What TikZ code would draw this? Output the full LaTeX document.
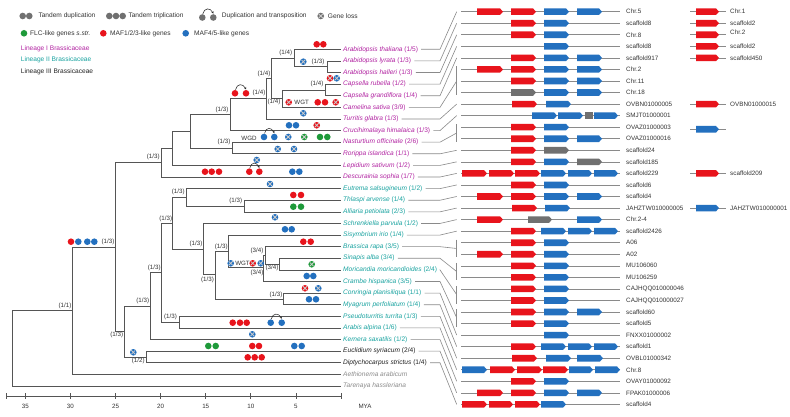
\documentclass[tikz,border=0pt]{standalone}
\usepackage{fontspec}
\setmainfont{Liberation Sans}
\usetikzlibrary{arrows.meta,calc}
\definecolor{linI}{HTML}{B224A2}
\definecolor{linII}{HTML}{19A3A0}
\definecolor{linIII}{HTML}{222222}
\definecolor{gred}{HTML}{E8141C}
\definecolor{gblue}{HTML}{2370BF}
\definecolor{ggreen}{HTML}{1E9A3A}
\definecolor{ggrey}{HTML}{707070}
\definecolor{treec}{HTML}{555555}
\definecolor{linec}{HTML}{8A8A8A}
\definecolor{txtc}{HTML}{333333}
\definecolor{greytxt}{HTML}{8C8C8C}
\newcommand\dotc[3]{\fill[#1] (#2,#3) circle (3.3pt);}
\newcommand\lossc[3]{\fill[#1] (#2,#3) circle (3.3pt);\draw[lossx] ({#2-2},{#3-2}) -- ({#2+2},{#3+2}) ({#2-2},{#3+2}) -- ({#2+2},{#3-2});}
\newcommand\arcdup[3]{\draw[arcst] ({#1+0.5},{#3-3.6}) .. controls ({#1+2},{#3-10}) and ({#2-3},{#3-10}) .. ({#2},{#3-3.9});}
\newcommand\G[4]{\pgfmathsetmacro\gy{11.7+11.55*#1}\fill[#4] (#2,{\gy-3.3}) -- ({#3-3},{\gy-3.3}) -- (#3,\gy) -- ({#3-3},{\gy+3.3}) -- (#2,{\gy+3.3}) -- cycle;}
\newcommand\Gy[4]{\fill[#4] (#2,{#1-3.3}) -- ({#3-3},{#1-3.3}) -- (#3,#1) -- ({#3-3},{#1+3.3}) -- (#2,{#1+3.3}) -- cycle;}
\begin{document}
\begin{tikzpicture}[x=1pt,y=-1pt,
  font=\fontsize{6.6}{7.5}\selectfont,
  tl/.style={draw=treec,line width=0.65pt},
  gline/.style={draw=linec,line width=0.6pt},
  conn/.style={draw=linec,line width=0.6pt},
  lossx/.style={draw=white!60!gray,line width=0.8pt},
  arcst/.style={draw=black!85,line width=0.5pt,-{Stealth[length=2.2pt,width=2.2pt]}},
  glab/.style={anchor=west,inner sep=0pt,text=txtc,font=\fontsize{6.3}{7}\selectfont},
  splab/.style={anchor=west,inner sep=0pt,font=\fontsize{6.6}{7.5}\selectfont},
  bs/.style={inner sep=0pt,text=txtc,font=\fontsize{6.2}{7}\selectfont},
  lg/.style={anchor=west,inner sep=0pt,text=txtc}]
\useasboundingbox (0,0) rectangle (790,417);
\fill[white] (0,0) rectangle (790,417);

% ---------------- legend
\fill[ggrey] (22.7,16) circle (3.3pt) (29.3,16) circle (3.3pt);
\node[lg] (lg1) at (38.3,16) {Tandem duplication};
\fill[ggrey] (109.3,16) circle (3.3pt) (116,16) circle (3.3pt) (122.7,16) circle (3.3pt);
\node[lg] (lg2) at (128.3,16) {Tandem triplication};
\fill[ggrey] (202.3,17.5) circle (3.3pt) (213.3,17.5) circle (3.3pt);
\arcdup{202.3}{213.3}{17.5}
\node[lg] (lg3) at (221.7,16) {Duplication and transposition};
\fill[ggrey] (320.7,16) circle (3.3pt);
\draw[lossx] (318.7,14) -- (322.7,18) (318.7,18) -- (322.7,14);
\node[lg] (lg4) at (327.7,16) {Gene loss};
\fill[ggreen] (24,33.3) circle (3.3pt);
\node[lg] (lg5) at (30,33.3) {FLC-like genes \textit{s.str.}};
\fill[gred] (103.3,33.3) circle (3.3pt);
\node[lg] (lg6) at (110,33.3) {MAF1/2/3-like genes};
\fill[gblue] (185.7,33.3) circle (3.3pt);
\node[lg] (lg7) at (194,33.3) {MAF4/5-like genes};
\node[lg,text=linI] (lgI) at (20.7,48.3) {Lineage I Brassicaceae};
\node[lg,text=linII] (lgII) at (20.7,60) {Lineage II Brassicaceae};
\node[lg,text=linIII] (lgIII) at (20.7,71.7) {Lineage III Brassicaceae};

% ---------------- leaves
\foreach \i in {0,...,29}{\pgfmathsetmacro\ly{49.3+11.61*\i}\coordinate (L\i) at (341,\ly);}
% internal nodes (x, incoming y)
\coordinate (Nly) at (327.7,66.7);
\coordinate (Narab) at (294.3,58.0);
\coordinate (Ncaps) at (325,89.9);
\coordinate (Ncame) at (282.3,98.6);
\coordinate (NAC) at (271.7,78.3);
\coordinate (Ntur) at (266.7,98.6);
\coordinate (Ncru) at (230.3,114.6);
\coordinate (Nnast) at (232.3,148.0);
\coordinate (NA) at (190,131.3);
\coordinate (NL) at (172.7,148.35);
\coordinate (NI) at (161.7,162.7);
\coordinate (NTA) at (244,206.0);
\coordinate (NET) at (186,197.3);
\coordinate (NSM) at (279.3,264.1);
\coordinate (NBSM) at (265,255.4);
\coordinate (NB) at (263.5,267.3);
\coordinate (NSB) at (228.3,251.2);
\coordinate (NCM) at (283.3,298.9);
\coordinate (NSBC) at (215,274.5);
\coordinate (NX) at (203.3,249.0);
\coordinate (NETS) at (172.7,223.2);
\coordinate (NPA) at (179.3,322.1);
\coordinate (N162) at (161.7,272.6);
\coordinate (N150) at (150,306.1);
\coordinate (NIII) at (146.7,356.97);
\coordinate (Nx) at (124.3,331.5);
\coordinate (Ncore) at (115,247.1);
\coordinate (Ncrown) at (72.3,310.7);
\coordinate (Nroot) at (12,348.3);

\draw[tl] (Nroot) |- (Ncrown) (Nroot) |- (L29);
\draw[tl] (Ncrown) |- (Ncore) (Ncrown) |- (L28);
\draw[tl] (Ncore) |- (NI) (Ncore) |- (Nx);
\draw[tl] (Nx) |- (N150) (Nx) |- (NIII);
\draw[tl] (NIII) |- (L26) (NIII) |- (L27);
\draw[tl] (N150) |- (N162) (N150) |- (L25);
\draw[tl] (N162) |- (NETS) (N162) |- (NPA);
\draw[tl] (NPA) |- (L23) (NPA) |- (L24);
\draw[tl] (NETS) |- (NET) (NETS) |- (NX);
\draw[tl] (NET) |- (L12) (NET) |- (NTA);
\draw[tl] (NTA) |- (L13) (NTA) |- (L14);
\draw[tl] (NX) |- (L15) (NX) |- (NSBC);
\draw[tl] (NSBC) |- (NSB) (NSBC) |- (NCM);
\draw[tl] (NCM) |- (L21) (NCM) |- (L22);
\draw[tl] (NSB) |- (L16) (NSB) |- (NB);
\draw[tl] (NB) |- (NBSM) (NB) |- (L20);
\draw[tl] (NBSM) |- (L17) (NBSM) |- (NSM);
\draw[tl] (NSM) |- (L18) (NSM) |- (L19);
\draw[tl] (NI) |- (NL) (NI) |- (L11);
\draw[tl] (NL) |- (NA) (NL) |- (L10);
\draw[tl] (NA) |- (Ncru) (NA) |- (Nnast);
\draw[tl] (Nnast) |- (L8) (Nnast) |- (L9);
\draw[tl] (Ncru) |- (Ntur) (Ncru) |- (L7);
\draw[tl] (Ntur) |- (NAC) (Ntur) |- (L6);
\draw[tl] (NAC) |- (Narab) (NAC) |- (Ncame);
\draw[tl] (Narab) |- (L0) (Narab) |- (Nly);
\draw[tl] (Nly) |- (L1) (Nly) |- (L2);
\draw[tl] (Ncame) |- (Ncaps) (Ncame) |- (L5);
\draw[tl] (Ncaps) |- (L3) (Ncaps) |- (L4);

% support labels
\node[bs] (b1) at (285.7,53.3) {(1/4)};
\node[bs] (b2) at (318,61.7) {(1/3)};
\node[bs] (b3) at (264,74) {(1/4)};
\node[bs] (b4) at (317,84.3) {(1/4)};
\node[bs] (b5) at (259,93.3) {(1/4)};
\node[bs] (b6) at (274,102.3) {(1/4)};
\node[bs] (b7) at (222,110) {(1/3)};
\node[bs] (b8) at (224,142) {(1/3)};
\node[bs] (b9) at (153.3,157.3) {(1/3)};
\node[bs] (b10) at (108,241.7) {(1/3)};
\node[bs] (b11) at (65,306) {(1/1)};
\node[bs] (b12) at (178.3,192.3) {(1/3)};
\node[bs] (b13) at (235.7,200.7) {(1/3)};
\node[bs] (b14) at (165.7,219) {(1/3)};
\node[bs] (b15) at (196,244.3) {(1/3)};
\node[bs] (b16) at (221.3,247.3) {(1/3)};
\node[bs] (b17) at (257,251) {(3/4)};
\node[bs] (b18) at (272,267.5) {(3/4)};
\node[bs] (b19) at (257,272.7) {(3/4)};
\node[bs] (b20) at (207.5,280) {(1/3)};
\node[bs] (b21) at (276,295) {(1/3)};
\node[bs] (b22) at (154.3,268.3) {(1/3)};
\node[bs] (b23) at (142.7,301.3) {(1/3)};
\node[bs] (b24) at (116.7,335) {(1/3)};
\node[bs] (b25) at (138.3,361) {(1/2)};
\node[bs] (b26) at (170.5,317.3) {(1/3)};
\node[bs] (wgt1) at (301.7,102.7) {WGT};
\node[bs] (wgt2) at (242.5,263.3) {WGT};
\node[bs] (wgd) at (249,138) {WGD};

% dots
\dotc{gred}{71}{241.7}\dotc{gblue}{78.3}{241.7}\dotc{gblue}{87.3}{241.7}\dotc{gblue}{94.3}{241.7}
\dotc{gred}{316.7}{44.3}\dotc{gred}{323.3}{44.3}
\lossc{gblue}{303.3}{61.7}
\lossc{gred}{330}{78.3}\lossc{gblue}{336.7}{78.3}
\dotc{gred}{235}{93.3}\dotc{gred}{246}{93.3}\arcdup{235}{246}{93.3}
\lossc{gred}{288.7}{102.3}\dotc{gred}{317.7}{102.3}\dotc{gred}{325}{102.3}\lossc{gred}{335.7}{102.3}
\lossc{gblue}{303.3}{113.3}
\dotc{gblue}{289}{125.3}\dotc{gblue}{296}{125.3}\lossc{gred}{316.7}{125.3}
\dotc{gblue}{264}{137}\dotc{gblue}{274.3}{137}\arcdup{264}{274.3}{137}
\lossc{gblue}{288.3}{137}\lossc{ggreen}{304.3}{137}\dotc{ggreen}{320}{137}\dotc{ggreen}{327.3}{137}
\lossc{gblue}{277.7}{149}\lossc{gblue}{294}{149}
\lossc{gblue}{256.7}{160}
\dotc{gred}{205}{171.7}\dotc{gred}{211.7}{171.7}\dotc{gred}{219}{171.7}
\dotc{gred}{249.3}{171.7}\dotc{gred}{259.3}{171.7}\arcdup{249.3}{259.3}{171.7}
\dotc{gblue}{292.3}{171.7}\dotc{gblue}{299.3}{171.7}
\lossc{gblue}{270}{184}
\dotc{gred}{293.3}{195}\dotc{gred}{301}{195}
\dotc{ggreen}{293.3}{206.7}\dotc{ggreen}{301}{206.7}
\lossc{gblue}{275}{217.3}
\dotc{gblue}{285}{229.3}\dotc{gblue}{291.7}{229.3}
\dotc{gred}{303.3}{241.7}\dotc{gred}{310.7}{241.7}
\lossc{gblue}{230.7}{263.3}\lossc{gred}{252.7}{263.3}\lossc{gblue}{260.7}{263.3}
\lossc{ggreen}{311.7}{264.3}
\dotc{gblue}{306.7}{276}\dotc{gblue}{313.3}{276}
\lossc{gred}{305}{288.3}\lossc{gblue}{318.3}{288.3}
\dotc{gblue}{309}{299.3}\dotc{gblue}{316}{299.3}
\dotc{gred}{232.7}{322.7}\dotc{gred}{240}{322.7}\dotc{gred}{246.7}{322.7}
\dotc{gblue}{270.7}{322.7}\dotc{gblue}{281.7}{322.7}\arcdup{270.7}{281.7}{322.7}
\lossc{gblue}{252.3}{334.3}
\dotc{ggreen}{208.3}{346}\dotc{ggreen}{215.7}{346}\dotc{gred}{252.3}{346}\dotc{gred}{259}{346}\dotc{gblue}{294.3}{346}\dotc{gblue}{301.7}{346}
\dotc{gred}{247.7}{357.3}\dotc{gred}{254.7}{357.3}\dotc{gred}{261.7}{357.3}
\lossc{gblue}{133.3}{352.3}

% axis
\draw[tl] (6.7,396.3) -- (341,396.3);
\foreach \t in {35,30,...,5}{\pgfmathsetmacro\tx{341-9.02*\t}\draw[tl] (\tx,393.3) -- (\tx,399.3);\node[bs] at (\tx,406.7) {\t};}
\draw[tl] (6.7,393.3) -- (6.7,399.3) (341,393.3) -- (341,399.3);
\node[bs] (mya) at (365,406.7) {MYA};

% ---------------- gene rows
\foreach \i/\lab in {0/Chr.5,1/scaffold8,2/Chr.8,3/scaffold8,4/scaffold917,5/Chr.2,6/Chr.11,7/Chr.18,8/OVBN01000005,9/SMJT01000001,10/OVAZ01000003,11/OVAZ01000016,12/scaffold24,13/scaffold185,14/scaffold229,15/scaffold6,16/scaffold4,17/JAHZTW010000005,18/Chr.2-4,19/scaffold2426,20/A06,21/A02,22/MU106060,23/MU106259,24/CAJHQQ010000046,25/CAJHQQ010000027,26/scaffold60,27/scaffold5,28/FNXX01000002,29/scaffold1,30/OVBL01000342,31/Chr.8,32/OVAY01000092,33/FPAK01000006,34/scaffold4}
{\pgfmathsetmacro\ry{11.7+11.55*\i}
 \coordinate (ra\i) at (461,\ry);
 \coordinate (rb\i) at (620,\ry);
 \node[glab] (r\i) at (626,\ry) {\lab};
 \draw[gline] (ra\i) -- (rb\i);}

% genes
\G{0}{477}{503}{gred}\G{0}{511}{536}{gred}\G{0}{544}{569}{gblue}\G{0}{577}{602}{gblue}
\G{1}{511}{536}{gred}\G{1}{544}{569}{gblue}
\G{2}{511}{536}{gred}\G{2}{544}{569}{gblue}
\G{3}{544}{569}{gblue}
\G{4}{511}{536}{gred}\G{4}{544}{569}{gblue}\G{4}{577}{602}{gblue}
\G{5}{477}{503}{gred}\G{5}{511}{536}{gred}\G{5}{544}{569}{gblue}\G{5}{577}{602}{gblue}
\G{6}{511}{536}{gred}\G{6}{544}{569}{gblue}\G{6}{577}{602}{gblue}
\G{7}{511}{536}{ggrey}\G{7}{544}{569}{gblue}\G{7}{577}{602}{gblue}
\G{8}{512}{537}{gred}\G{8}{546}{571}{gblue}
\G{9}{532}{557}{gblue}\G{9}{558}{583}{gblue}\fill[ggrey] (585,112.3) rectangle (593,119);\G{9}{594}{618}{gblue}
\G{10}{511}{536}{gred}\G{10}{544}{569}{gblue}
\G{11}{511}{536}{gred}\G{11}{544}{569}{gblue}\G{11}{577}{602}{gblue}
\G{12}{511}{536}{gred}\G{12}{544}{569}{ggrey}
\G{13}{511}{536}{gred}\G{13}{544}{569}{gblue}\G{13}{577}{602}{ggrey}
\G{14}{462}{487}{gred}\G{14}{489}{514}{gred}\G{14}{515}{540}{gred}\G{14}{541}{566}{gblue}\G{14}{568}{592}{gblue}\G{14}{594}{618}{gblue}
\G{15}{511}{536}{gred}\G{15}{544}{569}{gblue}
\G{16}{477}{503}{gred}\G{16}{511}{536}{gred}\G{16}{544}{569}{gblue}\G{16}{577}{602}{gblue}
\G{17}{512}{537}{gred}\G{17}{545}{570}{gblue}
\G{18}{477}{503}{gred}\G{18}{528}{552}{ggrey}\G{18}{577}{602}{gblue}
\G{19}{511}{536}{gred}\G{19}{541}{566}{gblue}\G{19}{568}{592}{gblue}\G{19}{594}{618}{gblue}
\G{20}{511}{536}{gred}\G{20}{544}{569}{gblue}
\G{21}{477}{503}{gred}\G{21}{511}{536}{gred}\G{21}{544}{569}{gblue}
\G{22}{511}{536}{gred}\G{22}{544}{569}{gblue}
\G{23}{511}{536}{gred}\G{23}{544}{569}{gblue}
\G{24}{511}{536}{gred}\G{24}{544}{569}{gblue}
\G{25}{511}{536}{gred}\G{25}{544}{569}{gblue}
\G{26}{511}{536}{gred}\G{26}{544}{569}{gblue}\G{26}{577}{602}{gblue}
\G{27}{511}{536}{gred}\G{27}{544}{569}{gblue}
\G{28}{544}{569}{gblue}
\G{29}{511}{536}{gred}\G{29}{541}{566}{gblue}\G{29}{568}{592}{gblue}\G{29}{594}{618}{gblue}
\G{30}{512}{537}{gred}\G{30}{546}{571}{gblue}\G{30}{577}{603}{gblue}
\G{31}{462}{487}{gblue}\G{31}{490}{515}{gred}\G{31}{517}{542}{gred}\G{31}{543}{568}{gred}\G{31}{569}{593}{gblue}\G{31}{595}{620}{gblue}
\G{32}{511}{536}{gred}\G{32}{544}{569}{gblue}
\G{33}{477}{503}{gred}\G{33}{511}{536}{gred}\G{33}{544}{569}{gblue}\G{33}{577}{602}{gblue}
\G{34}{462}{487}{gred}\G{34}{489}{513}{gred}\G{34}{515}{540}{gred}\G{34}{541}{566}{gblue}

% right-hand loci
\foreach \yy/\lab/\cc [count=\k] in {11.7/Chr.1/gred,23.25/scaffold2/gred,34.8/{}/gred,46.35/scaffold2/gred,57.9/scaffold450/gred,104.1/OVBN01000015/gred,129.3/{}/gblue,173.4/scaffold209/gred,208.05/JAHZTW010000001/gblue}
{\coordinate (xa\k) at (690,\yy);\coordinate (xb\k) at (726,\yy);
 \draw[gline] (xa\k) -- (xb\k);
 \Gy{\yy}{696}{719}{\cc}
 \node[glab] (x\k) at (730,\yy) {\lab};}
\node[glab] (xchr2) at (730,32.3) {Chr.2};

% brackets
\foreach \ya/\yb [count=\k] in {66.5/95.5,124.2/141.8,239.7/257.3,262.8/280.4,285.9/303.5,309/326.6}
{\coordinate (ka\k) at (456.7,\ya);\coordinate (kb\k) at (456.7,\yb);\draw[conn] (ka\k) -- (kb\k);}

% species labels and leaders
\foreach \i/\nm/\ct/\cl/\tg in {
0/{Arabidopsis thaliana}/{(1/5)}/linI/11.7,
1/{Arabidopsis lyrata}/{(1/3)}/linI/23.25,
2/{Arabidopsis halleri}/{(1/3)}/linI/34.8,
3/{Capsella rubella}/{(1/2)}/linI/46.35,
4/{Capsella grandiflora}/{(1/4)}/linI/57.9,
5/{Camelina sativa}/{(3/9)}/linI/81.0,
6/{Turritis glabra}/{(1/3)}/linI/104.1,
7/{Crucihimalaya himalaica}/{(1/3)}/linI/115.65,
8/{Nasturtium officinale}/{(2/6)}/linI/132.98,
9/{Rorippa islandica}/{(1/1)}/linI/150.3,
10/{Lepidium sativum}/{(1/2)}/linI/161.85,
11/{Descurainia sophia}/{(1/7)}/linI/173.4,
12/{Eutrema salsugineum}/{(1/2)}/linII/184.95,
13/{Thlaspi arvense}/{(1/4)}/linII/196.5,
14/{Alliaria petiolata}/{(2/3)}/linII/208.05,
15/{Schrenkiella parvula}/{(1/2)}/linII/219.6,
16/{Sisymbrium irio}/{(1/4)}/linII/231.15,
17/{Brassica rapa}/{(3/5)}/linII/248.48,
18/{Sinapis alba}/{(3/4)}/linII/271.58,
19/{Moricandia moricandioides}/{(2/4)}/linII/294.68,
20/{Crambe hispanica}/{(3/5)}/linII/317.78,
21/{Conringia planisiliqua}/{(1/1)}/linII/335.1,
22/{Myagrum perfoliatum}/{(1/4)}/linII/346.65,
23/{Pseudoturritis turrita}/{(1/3)}/linII/358.2,
24/{Arabis alpina}/{(1/6)}/linII/369.75,
25/{Kernera saxatilis}/{(1/2)}/linII/381.3,
26/{Euclidium syriacum}/{(2/4)}/linIII/392.85,
27/{Diptychocarpus strictus}/{(1/4)}/linIII/404.4}
{\node[splab,text=\cl] (s\i) at ([xshift=2pt]L\i) {\textit{\nm} \ct};
 \coordinate (t\i) at (456.7,\tg);
 \draw[conn] ([xshift=3pt]s\i.east) -- (s\i.east -| 440,0) -- (t\i);}
\node[splab,text=greytxt] (s28) at ([xshift=2pt]L28) {\textit{Aethionema arabicum}};
\node[splab,text=greytxt] (s29) at ([xshift=2pt]L29) {\textit{Tarenaya hassleriana}};
\end{tikzpicture}
\end{document}
